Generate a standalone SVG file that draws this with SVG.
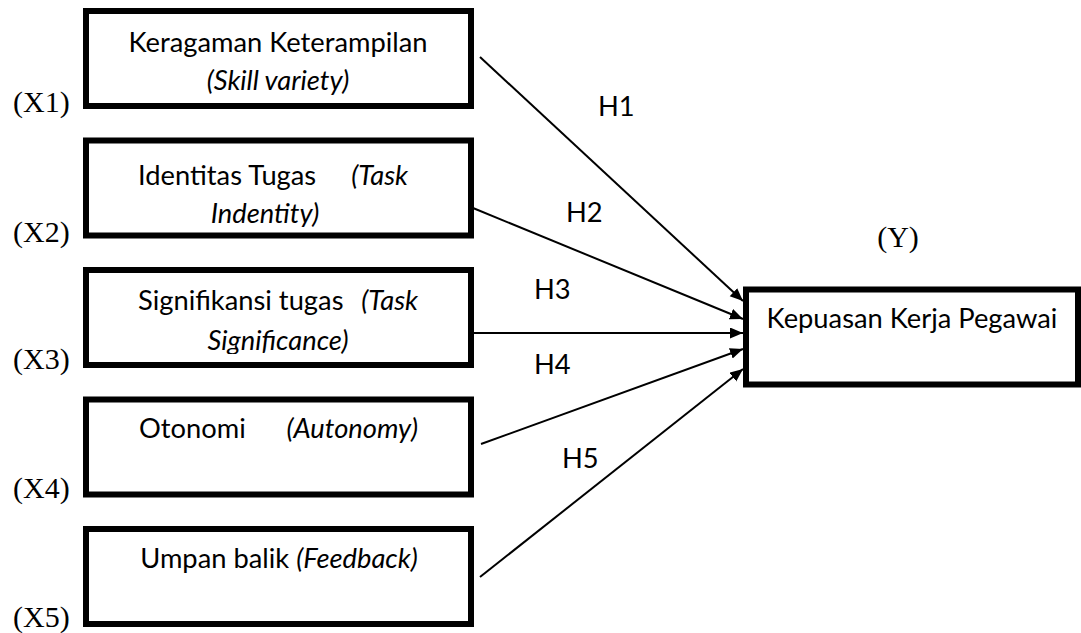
<svg xmlns="http://www.w3.org/2000/svg" width="1081" height="633" viewBox="0 0 1081 633">
<style>
.box{fill:#fff;stroke:#000;stroke-width:6}
.t{font-family:Lato,"Liberation Sans",sans-serif;font-size:27.3px;fill:#000}
.i{font-style:italic}
.c{text-anchor:middle}
.e{text-anchor:end}
.lbl{font-family:"Liberation Serif",serif;font-size:30px;fill:#000}
.con{stroke:#000;stroke-width:2;fill:none}
</style>
<defs>
<marker id="ah" markerUnits="userSpaceOnUse" markerWidth="14" markerHeight="12" refX="13" refY="5.5" orient="auto">
<path d="M0,0 L13,5.5 L0,11 z" fill="#000"/>
</marker>
<clipPath id="c1"><rect x="89" y="14" width="379" height="83"/></clipPath>
<clipPath id="c2"><rect x="89" y="143.5" width="379" height="83.5"/></clipPath>
<clipPath id="c3"><rect x="89" y="273" width="379" height="81"/></clipPath>
</defs>
<g id="connectors">
<line class="con" x1="480" y1="57" x2="743" y2="301" marker-end="url(#ah)"/>
<line class="con" x1="473" y1="208" x2="743" y2="319" marker-end="url(#ah)"/>
<line class="con" x1="473" y1="333" x2="743" y2="333" marker-end="url(#ah)"/>
<line class="con" x1="481" y1="444" x2="743" y2="349" marker-end="url(#ah)"/>
<line class="con" x1="480" y1="577" x2="743" y2="369" marker-end="url(#ah)"/>
<text class="t" x="598" y="116">H1</text>
<text class="t" x="566" y="222">H2</text>
<text class="t" x="534" y="299">H3</text>
<text class="t" x="534" y="374">H4</text>
<text class="t" x="562" y="468">H5</text>
</g>
<g id="x1">
<rect class="box" x="86" y="11" width="385" height="95"/>
<g clip-path="url(#c1)">
<text class="t c" x="278" y="52">Keragaman Keterampilan</text>
<text class="t c i" x="278" y="90">(Skill variety)</text>
</g>
<text class="lbl" x="13" y="112">(X1)</text>
</g>
<g id="x2">
<rect class="box" x="86" y="140.5" width="385" height="95"/>
<g clip-path="url(#c2)">
<text class="t" x="138" y="185">Identitas Tugas</text>
<text class="t i e" x="408" y="185">(Task</text>
<text class="t c i" x="265" y="223">Indentity)</text>
</g>
<text class="lbl" x="13" y="242">(X2)</text>
</g>
<g id="x3">
<rect class="box" x="86" y="270" width="385" height="95"/>
<g clip-path="url(#c3)">
<text class="t" x="138" y="310">Signifikansi tugas</text>
<text class="t i e" x="418" y="310">(Task</text>
<text class="t c i" x="278" y="350">Significance)</text>
</g>
<text class="lbl" x="13" y="369">(X3)</text>
</g>
<g id="x4">
<rect class="box" x="86" y="399.5" width="385" height="95"/>
<text class="t" x="139" y="438">Otonomi</text>
<text class="t i e" x="418" y="438">(Autonomy)</text>
<text class="lbl" x="13" y="498">(X4)</text>
</g>
<g id="x5">
<rect class="box" x="86" y="529" width="385" height="95"/>
<text class="t c" x="279" y="568">Umpan balik <tspan class="i">(Feedback)</tspan></text>
<text class="lbl" x="13" y="627">(X5)</text>
</g>
<g id="y">
<rect class="box" x="746" y="289.5" width="332" height="95"/>
<text class="t c" x="912" y="328">Kepuasan Kerja Pegawai</text>
<text class="lbl c" x="898" y="247">(Y)</text>
</g>
</svg>
